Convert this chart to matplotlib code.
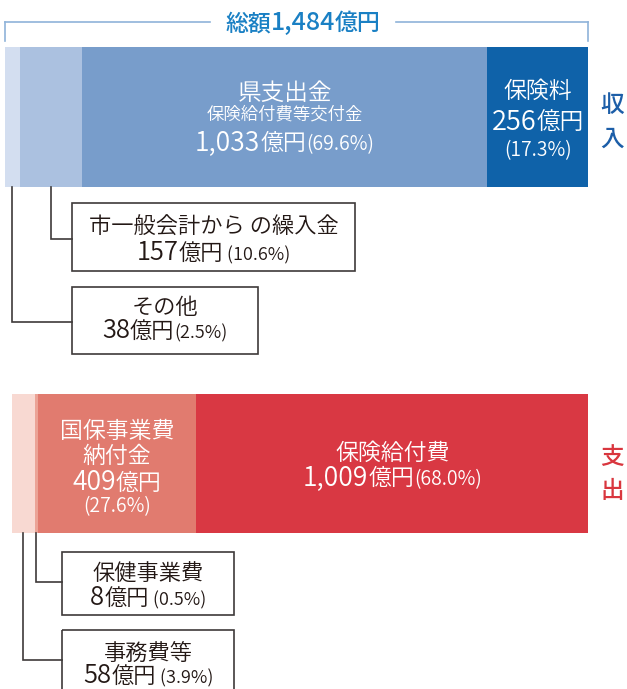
import matplotlib
matplotlib.use('Agg')
import matplotlib.pyplot as plt
from matplotlib.patches import Rectangle
import numpy as np

plt.rcParams['font.family'] = ['Noto Sans CJK JP', 'DejaVu Sans']

# ---------------- data ----------------
total = 1484
income_labels = ['その他', '市一般会計からの繰入金', '県支出金', '保険料']
income_values = [38, 157, 1033, 256]
income_pct = [2.5, 10.6, 69.6, 17.3]
income_colors = ['#d3def0', '#abc1e0', '#789dcb', '#0f62a9']

expense_labels = ['事務費等', '保健事業費', '国保事業費納付金', '保険給付費']
expense_values = [58, 8, 409, 1009]
expense_pct = [3.9, 0.5, 27.6, 68.0]
expense_colors = ['#f8d9d2', '#eba396', '#e17b6f', '#d93843']

W, H = 627, 689
fig = plt.figure(figsize=(W / 100, H / 100), dpi=100)
fig.patch.set_facecolor('white')


def bar_axes(x0, x1):
    ax = fig.add_axes([x0 / W, 0, (x1 - x0) / W, 1], zorder=0)
    ax.set_xlim(0, total)
    ax.set_ylim(H, 0)
    ax.axis('off')
    return ax


ax_in = bar_axes(5, 588)
ax_out = bar_axes(12, 588)

over = fig.add_axes([0, 0, 1, 1], zorder=5)
over.set_xlim(0, W)
over.set_ylim(H, 0)
over.axis('off')

in_left = np.concatenate([[0], np.cumsum(income_values)[:-1]])
out_left = np.concatenate([[0], np.cumsum(expense_values)[:-1]])

ax_in.barh(117, income_values, left=in_left, height=140, color=income_colors, linewidth=0)
ax_out.barh(463.5, expense_values, left=out_left, height=139, color=expense_colors, linewidth=0)

fig.canvas.draw()
renderer = fig.canvas.get_renderer()


def seg_px(ax, left, value, frac=0.5):
    return ax.transData.transform((left + value * frac, 0))[0]


def line(xc, yc, parts, color, weight=350, ref=None):
    """parts: list of (text, fontsize). yc: visual centre (px) of main glyphs."""
    main = ref if ref is not None else max(p[1] for p in parts)
    base = yc + 0.36 * main * 100 / 72
    texts = []
    for s, size in parts:
        t = over.text(0, base, s, fontsize=size, color=color, ha='left',
                      va='baseline', fontweight=weight)
        texts.append(t)
    widths = [t.get_window_extent(renderer).width for t in texts]
    x = xc - sum(widths) / 2
    for t, w in zip(texts, widths):
        t.set_x(x)
        x += w


def amount(v, size, digit_scale=1.15):
    return [(f'{v:,}', size * digit_scale), ('億円', size)]


def pct(p):
    return f'({p:.1f}%)'


# ---------------- title bracket ----------------
bracket_c = '#8fb3d9'
over.plot([5, 210], [22, 22], color=bracket_c, lw=1.2)
over.plot([396, 588], [22, 22], color=bracket_c, lw=1.2)
over.plot([5, 5], [22, 41], color=bracket_c, lw=1.2)
over.plot([588, 588], [22, 41], color=bracket_c, lw=1.2)
line(303, 22, [('総額', 16.5), (f'{total:,}', 18), ('億円', 16.5)], '#1a80c4',
     weight='medium', ref=16.5)

# ---------------- income labels ----------------
white = 'white'
cx = seg_px(ax_in, in_left[2], income_values[2])
line(cx, 91, [('県支出金', 17)], white)
line(cx, 113, [('保険給付費等交付金', 12.5)], white)
line(cx, 142, amount(income_values[2], 16.5) + [(pct(income_pct[2]), 14)], white, ref=16.5)

cx = seg_px(ax_in, in_left[3], income_values[3])
line(cx, 90, [(income_labels[3], 16.5)], white)
line(cx, 121, amount(income_values[3], 17), white, ref=17)
line(cx, 149, [(pct(income_pct[3]), 14)], white)

line(612, 103, [('収', 17)], '#1c5ea8', weight='medium')
line(612, 137, [('入', 17)], '#1c5ea8', weight='medium')

# ---------------- expense labels ----------------
cx = seg_px(ax_out, out_left[2], expense_values[2])
line(cx, 430, [('国保事業費', 16.5)], white)
line(cx, 455, [('納付金', 16.5)], white)
line(cx, 482, amount(expense_values[2], 16.5), white, ref=16.5)
line(cx, 505, [(pct(expense_pct[2]), 14)], white)

cx = seg_px(ax_out, out_left[3], expense_values[3])
line(cx, 452, [(expense_labels[3], 16.5)], white)
line(cx, 477, amount(expense_values[3], 16.5) + [(pct(expense_pct[3]), 14)], white, ref=16.5)

line(612, 455, [('支', 17)], '#d9363e', weight='medium')
line(612, 489, [('出', 17)], '#d9363e', weight='medium')

# ---------------- callout boxes ----------------
edge = '#3e3a39'
txt = '#231815'


def callout(ax, left, value, bar_bottom, y_conn, box, lines):
    x = seg_px(ax, left, value)
    bx0, by0, bx1, by1 = box
    over.plot([x, x, bx0], [bar_bottom, y_conn, y_conn], color=edge, lw=1.2,
              solid_joinstyle='miter')
    over.add_patch(Rectangle((bx0, by0), bx1 - bx0, by1 - by0, fill=False,
                             edgecolor=edge, lw=1.2))
    bc = (bx0 + bx1) / 2
    for yc, parts in lines:
        line(bc, yc, parts, txt, weight=350, ref=16)


callout(ax_in, in_left[1], income_values[1], 187, 239, (72, 203, 355, 271),
        [(226, [('市一般会計から の繰入金', 16)]),
         (252, amount(income_values[1], 16) + [(' ' + pct(income_pct[1]), 13)])])
callout(ax_in, in_left[0], income_values[0], 187, 322, (72, 287, 258, 354),
        [(306, [(income_labels[0], 16)]),
         (330, amount(income_values[0], 16) + [(pct(income_pct[0]), 13)])])
callout(ax_out, out_left[1], expense_values[1], 533, 582, (62, 552, 234, 615),
        [(572, [(expense_labels[1], 16)]),
         (597, amount(expense_values[1], 16) + [(' ' + pct(expense_pct[1]), 13)])])
callout(ax_out, out_left[0], expense_values[0], 533, 660, (62, 630, 234, 720),
        [(652, [(expense_labels[0], 16)]),
         (675, amount(expense_values[0], 16) + [(' ' + pct(expense_pct[0]), 13)])])

fig.savefig('out.png', dpi=100, facecolor='white')
